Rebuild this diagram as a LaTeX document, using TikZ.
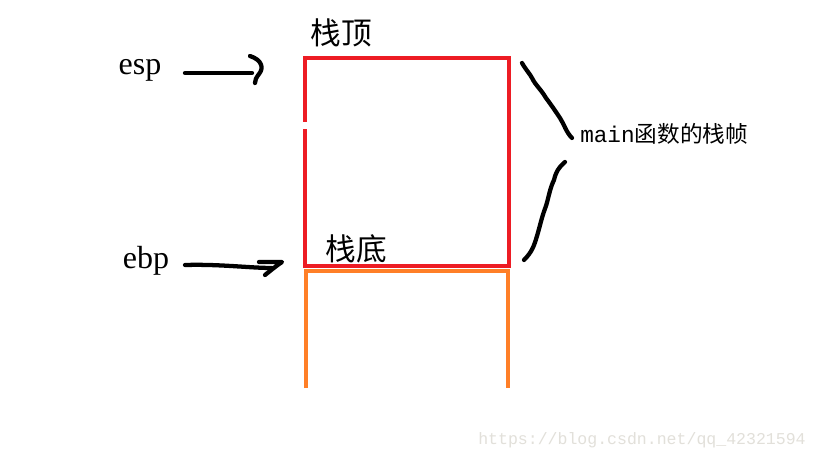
\documentclass[tikz,border=0pt]{standalone}
\usepackage{fontspec}
\setmainfont{Liberation Serif}
\newfontfamily\cjk{Noto Sans CJK SC}
\newfontfamily\mono{Liberation Mono}
\definecolor{paintred}{HTML}{ED1C24}
\definecolor{paintorange}{HTML}{FF7F27}
\definecolor{wmgray}{HTML}{E2E0DA}
\begin{document}
\begin{tikzpicture}[x=0.75pt,y=-0.75pt,
  redline/.style={draw=paintred,line width=3.2pt},
  orangeline/.style={draw=paintorange,line width=3.2pt},
  pen/.style={draw=black,line width=3.2pt,line cap=round,line join=round},
  cjklabel/.style={font=\cjk\fontsize{23}{25}\selectfont,inner sep=0pt},
  reglabel/.style={font=\fontsize{24}{26}\selectfont,inner sep=0pt}]
\useasboundingbox[fill=white] (0,0) rectangle (819,460);
% orange frame (below)
\coordinate (o1) at (306,388);
\coordinate (o2) at (306,271);
\coordinate (o3) at (508,271);
\coordinate (o4) at (508,388);
\draw[orangeline] (o1) -- (o2) -- (o3) -- (o4);
% red frame
\coordinate (r1) at (305,58);
\coordinate (r2) at (509,58);
\coordinate (r3) at (509,266);
\coordinate (r4) at (305,266);
\coordinate (rg1) at (305,122);
\coordinate (rg2) at (305,129);
\draw[redline] (rg1) -- (r1) -- (r2) -- (r3) -- (r4) -- (rg2);
% labels
\node[cjklabel] (top) at (341,33) {栈顶};
\node[cjklabel] (bottom) at (356,249) {栈底};
\node[reglabel] (esp) at (140,70) {esp};
\node[reglabel] (ebp) at (146,261) {ebp};
\node[anchor=west,inner sep=0pt] (frame) at (580,134) {{\mono\fontsize{17}{19}\selectfont main}{\cjk\fontsize{17}{19}\selectfont 函数的栈帧}};
% esp arrow
\coordinate (e1) at (185,73);
\coordinate (e2) at (252,73);
\draw[pen] (e1) -- (e2);
\draw[pen] (250,56) .. controls (262,60) and (264,68) .. (259,74) .. controls (256,78) and (255,80) .. (255,83);
% ebp arrow
\coordinate (b1) at (185,265);
\coordinate (b2) at (272,268);
\draw[pen] (b1) .. controls (220,264) and (250,268) .. (b2);
\draw[pen] (259,262) -- (282,262) .. controls (276,266) and (270,271) .. (265,275);
% brace lines
\draw[pen] (522,63) .. controls (526,70) and (530,74) .. (532,78) .. controls (536,86) and (540,88) .. (546,98) .. controls (552,106) and (556,112) .. (560,118) .. controls (564,124) and (566,132) .. (572,138);
\draw[pen] (565,162) .. controls (558,168) and (556,172) .. (554,180) .. controls (550,188) and (549,196) .. (546,206) .. controls (542,216) and (540,226) .. (537,236) .. controls (534,246) and (532,252) .. (524,260);
% watermark
\node[anchor=west,inner sep=0pt,text=wmgray,font=\mono\fontsize{12.4}{14}\selectfont] (wm) at (478,440) {https://blog.csdn.net/qq\_42321594};
\end{tikzpicture}
\end{document}
